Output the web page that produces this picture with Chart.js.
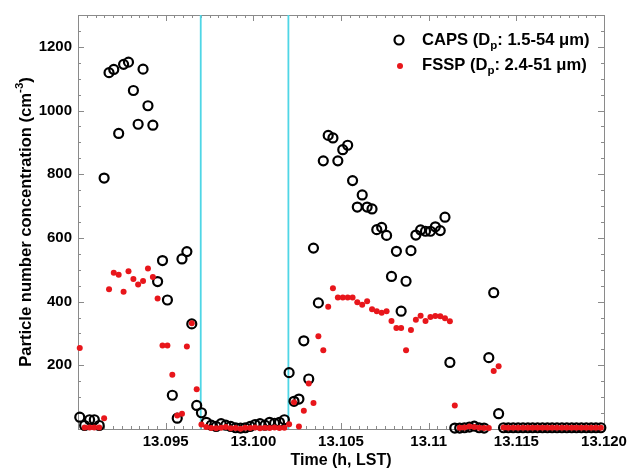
<!DOCTYPE html>
<html>
<head>
<meta charset="utf-8">
<script src="https://cdn.jsdelivr.net/npm/chart.js@4.4.1/dist/chart.umd.min.js"></script>
<style>
  html, body { margin: 0; padding: 0; background: #fff; }
</style>
</head>
<body>
<canvas id="chart" width="631" height="470"></canvas>
<script>
// sample times (h, LST), about one per second
const timeH = [
  13.09010, 13.09038, 13.09066, 13.09093, 13.09121, 13.09149, 13.09177, 13.09204, 13.09232, 13.09260,
  13.09288, 13.09316, 13.09343, 13.09371, 13.09399, 13.09427, 13.09454, 13.09482, 13.09510, 13.09538,
  13.09566, 13.09593, 13.09621, 13.09649, 13.09677, 13.09704, 13.09732, 13.09760, 13.09788, 13.09816,
  13.09843, 13.09871, 13.09899, 13.09927, 13.09954, 13.09982, 13.10010, 13.10038, 13.10066, 13.10093,
  13.10121, 13.10149, 13.10177, 13.10204, 13.10232, 13.10260, 13.10288, 13.10316, 13.10343, 13.10371,
  13.10399, 13.10427, 13.10454, 13.10482, 13.10510, 13.10538, 13.10566, 13.10593, 13.10621, 13.10649,
  13.10677, 13.10704, 13.10732, 13.10760, 13.10788, 13.10816, 13.10843, 13.10871, 13.10899, 13.10927,
  13.10954, 13.10982, 13.11010, 13.11038, 13.11066, 13.11093, 13.11121, 13.11149, 13.11177, 13.11204,
  13.11232, 13.11260, 13.11288, 13.11316, 13.11343, 13.11371, 13.11399, 13.11427, 13.11454, 13.11482,
  13.11510, 13.11538, 13.11566, 13.11593, 13.11621, 13.11649, 13.11677, 13.11704, 13.11732, 13.11760,
  13.11788, 13.11816, 13.11843, 13.11871, 13.11899, 13.11927, 13.11954, 13.11982
];

// CAPS (Dp 1.5-54 um), cm-3
const capsConc = [
  37, 11, 29, 29, 11, 788, 1119, 1129, 928, 1145,
  1152, 1063, 957, 1130, 1015, 954, 463, 529, 405, 106,
  34, 534, 557, 330, 74, 51, 21, 12, 8, 17,
  12, 8, 4, 3, 4, 8, 14, 17, 12, 21,
  18, 21, 29, 177, 87, 94, 277, 157, 568, 396,
  842, 922, 914, 842, 877, 891, 780, 697, 735, 697,
  691, 626, 633, 608, 479, 558, 370, 464, 560, 609,
  625, 621, 621, 635, 623, 665, 209, 3, 3, 4,
  6, 9, 4, 3, 224, 428, 48, 4, 4, 4,
  4, 4, 4, 4, 4, 4, 4, 4, 4, 4,
  4, 4, 4, 4, 4, 4, 4, 4
];

// FSSP (Dp 2.4-51 um), cm-3
const fsspConc = [
  254, 5, 5, 5, 5, 34, 439, 491, 484, 431,
  495, 471, 454, 465, 504, 477, 410, 262, 262, 170,
  42, 48, 259, 332, 125, 14, 6, 3, 2, 4,
  6, 2, 3, 1, 4, 3, 5, 2, 4, 3,
  5, 3, 4, 15, 84, 8, 57, 143, 82, 291,
  247, 384, 442, 413, 413, 413, 413, 398, 390, 401,
  376, 370, 365, 370, 339, 317, 317, 247, 311, 343,
  356, 339, 352, 355, 354, 348, 338, 74, 4, 5,
  8, 6, 4, 3, 3, 182, 197, 5, 4, 4,
  4, 4, 4, 4, 4, 4, 4, 4, 4, 4,
  4, 4, 4, 4, 4, 4, 4, 4
];

// vertical marker lines
const cutTimes = [13.097, 13.102];

// axes
const xRange = [13.090, 13.120];
const yRange = [0, 1300];
const xTickValues = [13.095, 13.100, 13.105, 13.110, 13.115, 13.120];
const xTickLabels = ['13.095', '13.100', '13.105', '13.11', '13.115', '13.120'];
const yTickValues = [200, 400, 600, 800, 1000, 1200];
const xMinorStep = 0.0005;
const yMinorStep = 50;

const FONT = "'Liberation Sans', Arial, Helvetica, sans-serif";
const RED = '#e8161b';
Chart.defaults.font.family = FONT;
Chart.defaults.color = '#000';

function toPoints(values) {
    return timeH.map((t, i) => ({ x: t, y: values[i] }));
}

// 프레임, 안쪽 눈금, 기준선
const framePlugin = {
    id: 'frame',
    beforeDatasetsDraw(chart) {
        const { ctx, chartArea: a, scales: { x, y } } = chart;
        ctx.save();
        ctx.strokeStyle = '#8a8a8a';
        ctx.lineWidth = 1;
        ctx.strokeRect(a.left + 0.5, a.top + 0.5, a.right - a.left, a.bottom - a.top);

        ctx.beginPath();
        const nx = Math.round((xRange[1] - xRange[0]) / xMinorStep);
        for (let k = 1; k < nx; k++) {
            const px = Math.round(x.getPixelForValue(xRange[0] + k * xMinorStep)) + 0.5;
            const len = k % 10 === 0 ? 6 : 3;
            ctx.moveTo(px, a.bottom); ctx.lineTo(px, a.bottom - len);
            ctx.moveTo(px, a.top); ctx.lineTo(px, a.top + len);
        }
        const ny = Math.round((yRange[1] - yRange[0]) / yMinorStep);
        for (let k = 1; k < ny; k++) {
            const py = Math.round(y.getPixelForValue(yRange[0] + k * yMinorStep)) + 0.5;
            const len = k % 4 === 0 ? 6 : 3;
            ctx.moveTo(a.left, py); ctx.lineTo(a.left + len, py);
            ctx.moveTo(a.right, py); ctx.lineTo(a.right - len, py);
        }
        ctx.stroke();

        ctx.strokeStyle = '#4fd6e6';
        ctx.lineWidth = 1.8;
        ctx.beginPath();
        cutTimes.forEach(t => {
            const px = x.getPixelForValue(t);
            ctx.moveTo(px, a.top);
            ctx.lineTo(px, a.bottom);
        });
        ctx.stroke();
        ctx.restore();
    }
};

// 범례와 y축 제목 (아래/위 첨자)
const textPlugin = {
    id: 'texts',
    afterDraw(chart) {
        const { ctx, chartArea: a } = chart;
        ctx.save();
        ctx.fillStyle = '#000';
        ctx.textBaseline = 'middle';
        ctx.textAlign = 'left';

        const big = 'bold 16.6px ' + FONT;
        const small = 'bold 11.5px ' + FONT;

        function drawParts(parts, x0, y0) {
            let cx = x0;
            parts.forEach(p => {
                ctx.font = p.sub || p.sup ? small : big;
                const dy = p.sub ? 6 : (p.sup ? -6 : 0);
                ctx.fillText(p.t, cx, y0 + dy);
                cx += ctx.measureText(p.t).width;
            });
        }
        function partsWidth(parts) {
            let w = 0;
            parts.forEach(p => {
                ctx.font = p.sub || p.sup ? small : big;
                w += ctx.measureText(p.t).width;
            });
            return w;
        }

        // legend
        const legendRows = [
            { parts: [{ t: 'CAPS (D' }, { t: 'p', sub: true }, { t: ': 1.5-54 \u03bcm)' }], y: 40, kind: 'caps' },
            { parts: [{ t: 'FSSP (D' }, { t: 'p', sub: true }, { t: ': 2.4-51 \u03bcm)' }], y: 65, kind: 'fssp' }
        ];
        legendRows.forEach(r => {
            ctx.beginPath();
            if (r.kind === 'caps') {
                ctx.arc(399, r.y, 4.5, 0, Math.PI * 2);
                ctx.lineWidth = 2.2;
                ctx.strokeStyle = '#000';
                ctx.stroke();
            } else {
                ctx.arc(400, r.y + 1, 3, 0, Math.PI * 2);
                ctx.fillStyle = RED;
                ctx.fill();
                ctx.fillStyle = '#000';
            }
            drawParts(r.parts, 422, r.y);
        });

        // y title
        const yTitle = [{ t: 'Particle number concentration (cm' }, { t: '-3', sup: true }, { t: ')' }];
        ctx.translate(26, (a.top + a.bottom) / 2);
        ctx.rotate(-Math.PI / 2);
        drawParts(yTitle, -partsWidth(yTitle) / 2, 0);
        ctx.restore();
    }
};

new Chart(document.getElementById('chart'), {
    type: 'scatter',
    data: {
        datasets: [{
            label: 'CAPS',
            data: toPoints(capsConc),
            pointRadius: 4.5,
            pointHoverRadius: 4.5,
            pointBorderWidth: 2.2,
            pointBorderColor: '#000',
            pointBackgroundColor: 'rgba(0,0,0,0)',
            clip: false,
            order: 2
        }, {
            label: 'FSSP',
            data: toPoints(fsspConc),
            pointRadius: 3,
            pointHoverRadius: 3,
            pointBorderWidth: 0,
            pointBackgroundColor: RED,
            clip: false,
            order: 1
        }]
    },
    options: {
        responsive: false,
        animation: false,
        devicePixelRatio: 1,
        layout: { padding: { left: 0, top: 13, right: 27, bottom: 0 } },
        plugins: {
            legend: { display: false },
            tooltip: { enabled: false }
        },
        scales: {
            x: {
                type: 'linear',
                min: xRange[0],
                max: xRange[1],
                afterBuildTicks: s => { s.ticks = xTickValues.map(v => ({ value: v })); },
                afterFit: s => { s.height = 41; },
                grid: { display: false, drawTicks: false },
                border: { display: false },
                ticks: {
                    padding: 4,
                    maxRotation: 0,
                    autoSkip: false,
                    font: { size: 15, weight: 'bold' },
                    callback: (v, i) => xTickLabels[i]
                },
                title: {
                    display: true,
                    text: 'Time (h, LST)',
                    font: { size: 16, weight: 'bold' },
                    padding: { top: 0, bottom: 0 }
                }
            },
            y: {
                type: 'linear',
                min: yRange[0],
                max: yRange[1],
                afterBuildTicks: s => { s.ticks = yTickValues.map(v => ({ value: v })); },
                afterFit: s => { s.width = 78; },
                grid: { display: false, drawTicks: false },
                border: { display: false },
                ticks: {
                    padding: 6,
                    font: { size: 15, weight: 'bold' },
                    callback: v => String(v)
                }
            }
        }
    },
    plugins: [framePlugin, textPlugin]
});
</script>
</body>
</html>
